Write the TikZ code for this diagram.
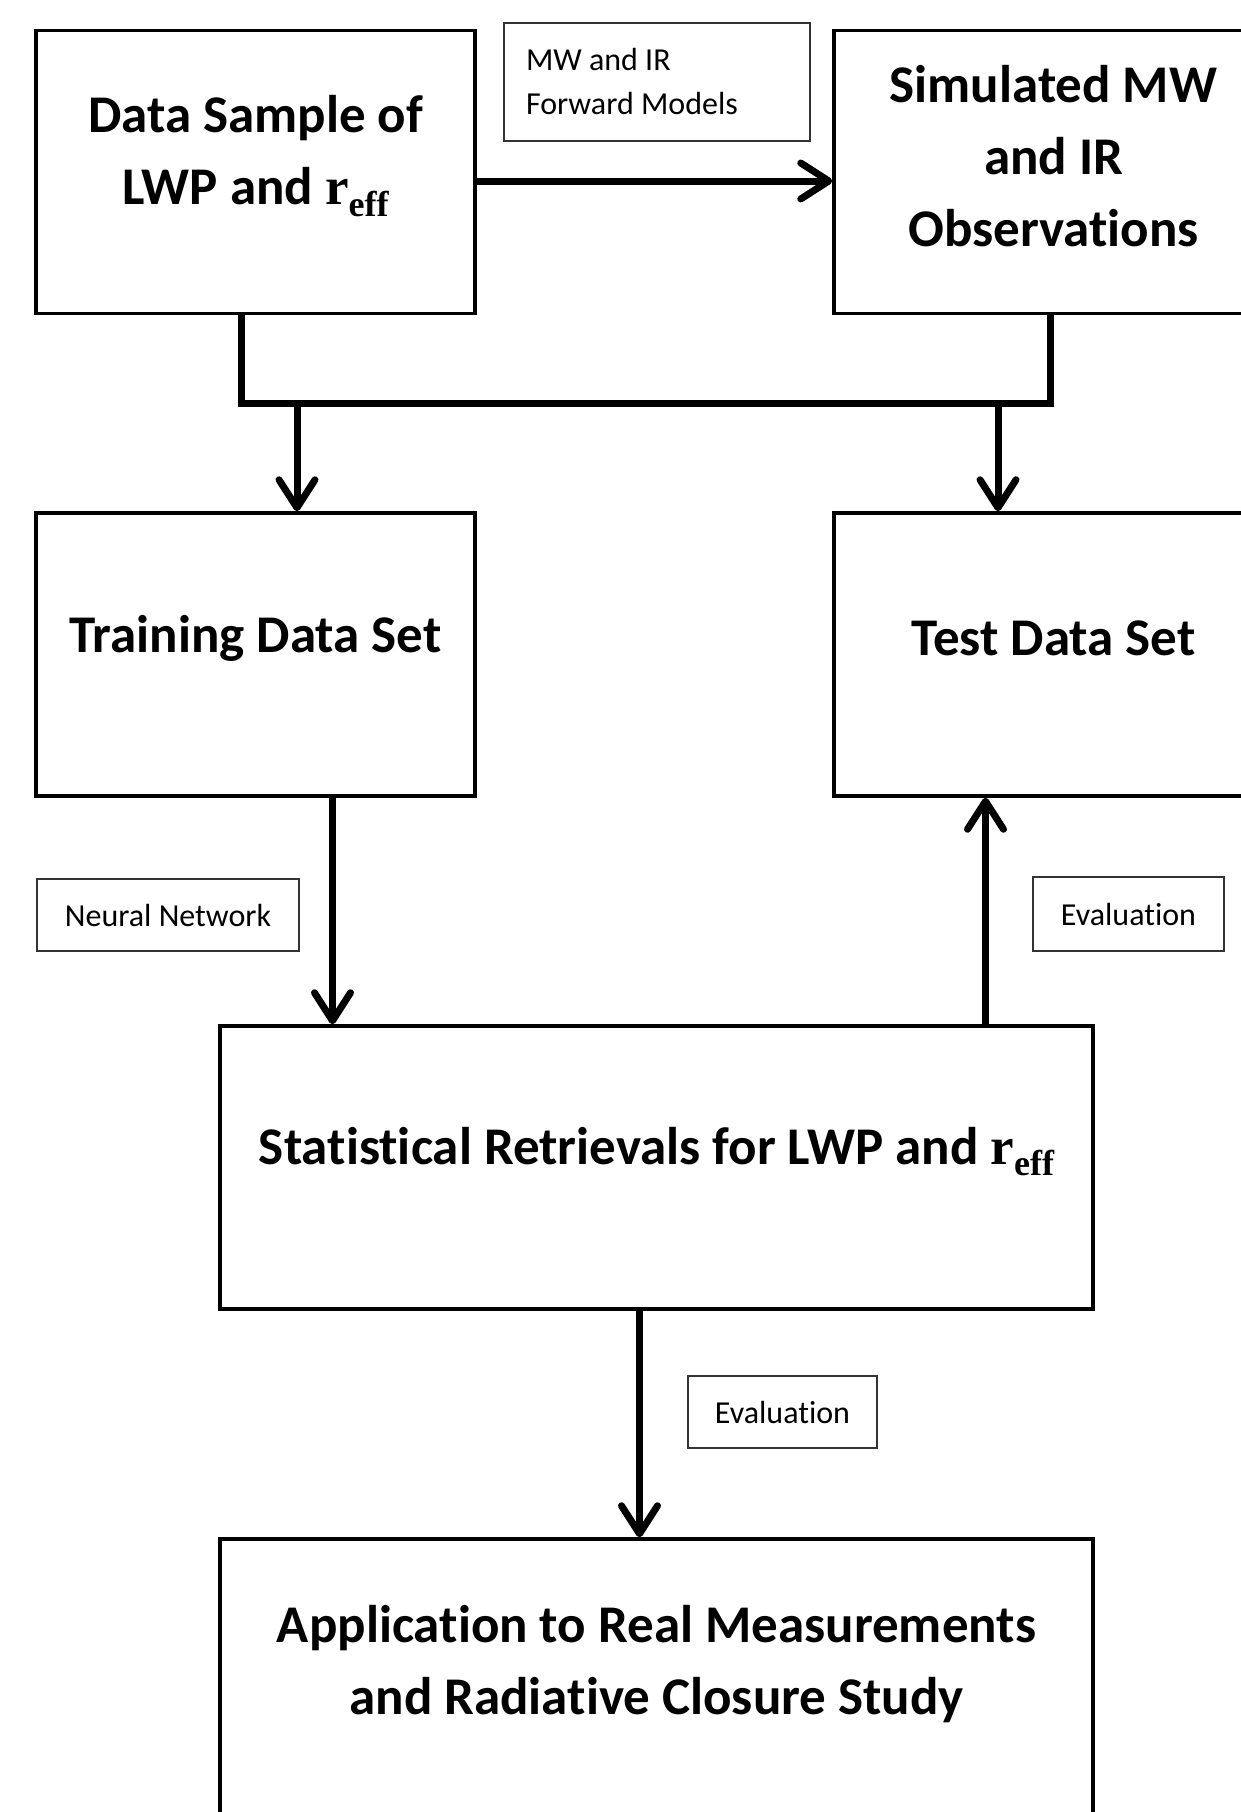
\documentclass[tikz,border=0pt]{standalone}
\usepackage[no-math]{fontspec}
\setmainfont{Carlito}[Ligatures=NoCommon]
\newfontfamily\serifrm{Liberation Serif}
\usetikzlibrary{positioning,arrows.meta}
\newcommand{\rEff}{{\serifrm r\raisebox{-0.22em}{\fontsize{36}{36}\selectfont eff}}}

\begin{document}
\begin{tikzpicture}[x=1pt, y=-1pt, on grid, node distance=482.5pt and 798pt,
	big/.style={rectangle, draw=black, line width=3.5pt, minimum width=439pt, minimum height=283pt},
	wide/.style={big, minimum width=873pt},
	txt/.style={font=\fontsize{53}{72}\selectfont\bfseries, align=center, yshift=16pt},
	note/.style={rectangle, draw=black!80, line width=1.5pt, font=\fontsize{32}{44}\selectfont, inner sep=0pt},
	link/.style={line width=7pt},
	arr/.style={link, -{Straight Barb[length=28pt, width=36pt, round]}}]
			\useasboundingbox (0,0) rectangle (1240,1812);
			\node [big, label={[txt]center:{Data Sample of\\LWP and \rEff}}] (DS) at (255.5,172) {};
			\node [big, label={[txt]center:{Simulated MW\\and IR\\Observations}}] (SO) [right =of DS] {};
			\node [big, label={[txt]center:Training Data Set}] (TR) [below =of DS] {};
			\node [big, label={[txt]center:Test Data Set}] (TE) [below =of SO] {};
			\node [wide, label={[txt]center:{Statistical Retrievals for LWP and \rEff}}] (SR) [below right =513pt and 401pt of TR] {};
			\node [wide, label={[txt]center:{Application to Real Measurements\\and Radiative Closure Study}}] (AP) [below =513pt of SR] {};
			% small labels beside the arrows
			\node [note, minimum width=306pt, minimum height=118pt, text width=262pt, align=flush left] (FM) at (657,82) {MW and IR\\Forward Models};
			\node [note, minimum width=262pt, minimum height=72pt] (NN) at (168,915) {Neural Network};
			\node [note, minimum width=191pt, minimum height=74pt] (EV1) at (1128.5,914) {Evaluation};
			\node [note, minimum width=189pt, minimum height=72pt] (EV2) at (782.5,1412) {Evaluation};
			\coordinate (busL) at (241,403);
			\coordinate (busR) at (1050,403);
			\coordinate (s1) at (297,403);
			\coordinate (s2) at (998,403);
			\draw [arr] ([yshift=-9pt]DS.east) -- ([yshift=-9pt]SO.west);
			\draw [link] (DS.south -| busL) -- (busL) -- (busR) -- (SO.south -| busR);
			\draw [arr] (s1) -- (s1 |- TR.north);
			\draw [arr] (s2) -- (s2 |- TE.north);
			\draw [arr] ([xshift=77pt]TR.south) -- ([xshift=77pt]TR.south |- SR.north);
			\draw [arr] ([xshift=-68pt]TE.south |- SR.north) -- ([xshift=-68pt]TE.south);
			\draw [arr] ([xshift=-17pt]SR.south) -- ([xshift=-17pt]AP.north);
\end{tikzpicture}
\end{document}
